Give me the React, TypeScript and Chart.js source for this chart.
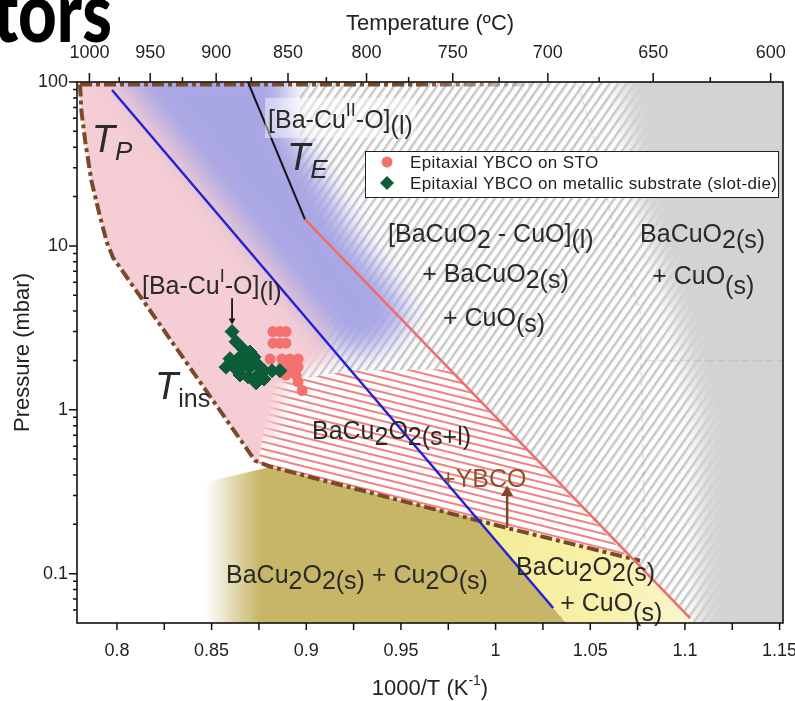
import React, { useEffect, useRef } from 'react';
import { Chart, registerables } from 'chart.js';

type Pt = [number, number];

// ---------- axes ----------
const X_MIN = 0.7789;
const X_MAX = 1.1518;
const P_MIN = 0.05;
const P_MAX = 100;

const xTickValues = [0.8, 0.825, 0.85, 0.875, 0.9, 0.925, 0.95, 0.975, 1.0, 1.025, 1.05, 1.075, 1.1, 1.125, 1.15];
const xLabelValues = [0.8, 0.85, 0.9, 0.95, 1.0, 1.05, 1.1, 1.15];
const tempMajor = [1000, 950, 900, 850, 800, 750, 700, 650, 600];
const tempMinor = [975, 925, 875, 825, 775, 725, 675, 625];
const pMajor = [0.1, 1, 10, 100];
const pMinor = [0.06, 0.07, 0.08, 0.09, 0.2, 0.3, 0.4, 0.5, 0.6, 0.7, 0.8, 0.9, 2, 3, 4, 5, 6, 7, 8, 9, 20, 30, 40, 50, 60, 70, 80, 90];

const seriesNames = ['Epitaxial YBCO on STO', 'Epitaxial YBCO on metallic substrate (slot-die)'];

// ---------- measured points (1000/T, mbar) ----------
const stoPoints: Pt[] = [
  [0.8824, 3.0], [0.8861, 3.0], [0.8893, 3.0],
  [0.8824, 2.55], [0.8861, 2.55], [0.8893, 2.55],
  [0.8809, 2.04], [0.8872, 2.04], [0.8914, 2.04], [0.8957, 2.04],
  [0.8872, 1.82], [0.8914, 1.82], [0.8957, 1.82],
  [0.8893, 1.63], [0.8946, 1.63], [0.8957, 1.48], [0.8978, 1.31],
];
const slotDiePoints: Pt[] = [
  [0.8608, 3.0], [0.8629, 2.6], [0.8666, 2.35], [0.8703, 2.25],
  [0.8597, 2.05], [0.864, 2.05], [0.8682, 2.05], [0.8724, 2.1],
  [0.8576, 1.82], [0.8618, 1.82], [0.8661, 1.82], [0.8703, 1.82], [0.8745, 1.88],
  [0.8777, 1.73], [0.8819, 1.73], [0.8861, 1.73],
  [0.865, 1.63], [0.8692, 1.59], [0.8735, 1.59], [0.8777, 1.54], [0.8735, 1.46],
];

// ---------- phase boundaries ----------
const tpBoundary: Pt[] = [
  [0.7805, 96.5], [0.7812, 67], [0.7833, 43], [0.7865, 25], [0.7911, 15], [0.7947, 10.5], [0.7979, 8.5],
  [0.8729, 0.49], [0.8809, 0.45], [0.9495, 0.28], [1.0061, 0.19], [1.0763, 0.12],
];
const tpTop: Pt[] = [[0.7805, 96.5], [1.03, 96.5]];
const blueLine: Pt[] = [[0.7974, 89.4], [1.0304, 0.0617]];
const teLine: Pt[] = [[0.8692, 100], [0.8993, 14.5]];
const redLine: Pt[] = [[0.8993, 14.5], [1.1027, 0.0536]];
const faintBoundary: Pt[] = [[1.0436, 97], [1.0552, 33.6], [1.0631, 10.96], [1.0763, 4.11], [1.079, 0.124]];
const faintHorizontal: Pt[] = [[1.079, 2.0], [1.1518, 2.0]];
const brownArrow: Pt[] = [[1.0061, 0.19], [1.0061, 0.313]];
const blackArrow: Pt[] = [[0.8608, 4.8], [0.8608, 3.5]];

// ---------- phase regions ----------
const greyHatchRegion: Pt[] = [[0.8967, 180], [1.1714, 180], [1.1714, 0.0306], [0.9495, 0.0306], [0.9495, 0.438], [0.8967, 0.438]];
const greySolidRegion: Pt[] = [[1.0631, 180], [1.1714, 180], [1.1714, 0.0306], [1.108, 0.0306], [1.108, 0.88], [1.0974, 3.11], [1.0763, 19.2]];
const pinkRegion: Pt[] = [
  [0.7794, 100], [0.7812, 67], [0.7833, 43], [0.7865, 25], [0.7911, 15], [0.7947, 10.5], [0.7979, 8.5],
  [0.8729, 0.49], [0.8809, 0.45], [0.8782, 0.667], [0.8861, 1.25], [0.8967, 3.11], [0.8703, 100],
];
const pinkHatchRegion: Pt[] = [[0.8745, 0.463], [0.8819, 1.44], [0.9231, 1.73], [0.9756, 1.77], [1.0689, 0.13], [1.0061, 0.189], [0.9495, 0.28], [0.8809, 0.457]];
const pinkSoftRegion: Pt[] = [
  [0.8122, 136], [0.8703, 136], [0.9073, 9.52], [0.9152, 3.11], [0.9126, 1.99], [0.8888, 1.59],
  [0.8819, 0.667], [0.8745, 0.667], [0.8465, 2.35], [0.8175, 10.96],
];
const lavenderRegion: Pt[] = [[0.7953, 136], [0.8888, 136], [0.8914, 51], [0.9073, 27.2], [0.9258, 10.96], [0.9469, 5.44], [0.9548, 3.57], [0.9416, 2.52], [0.9205, 2.1]];
const oliveRegion: Pt[] = [[0.8439, 0.355], [0.8782, 0.44], [0.8809, 0.45], [0.9495, 0.28], [0.9897, 0.217], [1.0444, 0.04], [0.8439, 0.04]];
const yellowRegion: Pt[] = [[0.9897, 0.217], [1.0061, 0.19], [1.0689, 0.13], [1.1128, 0.0405], [1.0444, 0.0405]];

// ---------- labels ----------
type Part = { t: string; dy?: number; size?: number; italic?: boolean };
type Label = { x: number; p: number; parts: Part[]; color?: string; box?: boolean };
const phaseLabels: Label[] = [
  { x: 0.8798, p: 52.5, box: true, parts: [{ t: '[Ba-Cu' }, { t: 'II', dy: -12, size: 18 }, { t: '-O]' }, { t: '(l)', dy: 6 }] },
  { x: 0.9432, p: 10.5, parts: [{ t: '[BaCuO' }, { t: '2', dy: 6 }, { t: ' - CuO]' }, { t: '(l)', dy: 6 }] },
  { x: 0.9612, p: 6.0, parts: [{ t: '+ BaCuO' }, { t: '2(s)', dy: 6 }] },
  { x: 0.9722, p: 3.24, parts: [{ t: '+ CuO' }, { t: '(s)', dy: 6 }] },
  { x: 1.0763, p: 10.5, parts: [{ t: 'BaCuO' }, { t: '2(s)', dy: 6 }] },
  { x: 1.0827, p: 5.83, parts: [{ t: '+ CuO' }, { t: '(s)', dy: 10 }] },
  { x: 0.8132, p: 5.07, parts: [{ t: '[Ba-Cu' }, { t: 'I', dy: -12, size: 18 }, { t: '-O]' }, { t: '(l)', dy: 6 }] },
  { x: 0.903, p: 0.667, parts: [{ t: 'BaCu' }, { t: '2', dy: 6 }, { t: 'O' }, { t: '2(s+l)', dy: 6 }] },
  { x: 0.9712, p: 0.34, color: '#8a5530', parts: [{ t: '+YBCO' }] },
  { x: 0.8576, p: 0.0875, parts: [{ t: 'BaCu' }, { t: '2', dy: 6 }, { t: 'O' }, { t: '2(s)', dy: 6 }, { t: ' + Cu' }, { t: '2', dy: 6 }, { t: 'O' }, { t: '(s)', dy: 6 }] },
  { x: 1.0108, p: 0.098, parts: [{ t: 'BaCu' }, { t: '2', dy: 6 }, { t: 'O' }, { t: '2(s)', dy: 6 }] },
  { x: 1.0341, p: 0.0592, parts: [{ t: '+ CuO' }, { t: '(s)', dy: 10 }] },
  { x: 0.7867, p: 37.5, parts: [{ t: 'T', italic: true, size: 38 }, { t: 'P', italic: true, size: 26, dy: 8 }] },
  { x: 0.8898, p: 29.2, parts: [{ t: 'T', italic: true, size: 38 }, { t: 'E', italic: true, size: 26, dy: 8 }] },
  { x: 0.8201, p: 1.17, parts: [{ t: 'T', italic: true, size: 38 }, { t: 'ins', size: 25, dy: 8 }] },
];

const FONT = '"Liberation Sans", Arial, sans-serif';
const BROWN = '#7a4a28';
const toXY = (pts: Pt[]) => pts.map(([x, y]) => ({ x, y }));
const near = (list: number[], v: number) => list.some((u) => Math.abs(u - v) < 1e-6);

// blur for soft-edged regions (registered before the Filler so it wraps the fill)
const blurPlugin = {
  id: 'regionBlur',
  beforeDatasetDraw(chart: any, args: any) {
    const ds = chart.data.datasets[args.index];
    if (ds && ds.blur) {
      chart.ctx.save();
      chart.ctx.filter = `blur(${ds.blur}px)`;
    }
  },
  afterDatasetDraw(chart: any, args: any) {
    const ds = chart.data.datasets[args.index];
    if (ds && ds.blur) chart.ctx.restore();
  },
};
Chart.register(blurPlugin);
Chart.register(...registerables);

function stripePattern(color: string, bg: string | null, period: number, thick: number, angle: number) {
  const c = document.createElement('canvas');
  c.width = 16;
  c.height = period;
  const g = c.getContext('2d')!;
  if (bg) {
    g.fillStyle = bg;
    g.fillRect(0, 0, 16, period);
  }
  g.fillStyle = color;
  g.fillRect(0, 0, 16, thick);
  const pat = g.createPattern(c, 'repeat')!;
  pat.setTransform(new DOMMatrix().rotate(angle));
  return pat;
}

function drawRich(ctx: CanvasRenderingContext2D, x: number, y: number, parts: Part[], color: string, box: boolean) {
  const base = 25;
  let w = 0;
  for (const p of parts) {
    ctx.font = `${p.italic ? 'italic ' : ''}${p.size ?? base}px ${FONT}`;
    w += ctx.measureText(p.t).width;
  }
  if (box) {
    ctx.fillStyle = 'rgba(255,255,255,0.45)';
    ctx.fillRect(x - 3, y - 30, w + 6, 40);
  }
  let cx = x;
  ctx.fillStyle = color;
  for (const p of parts) {
    ctx.font = `${p.italic ? 'italic ' : ''}${p.size ?? base}px ${FONT}`;
    ctx.fillText(p.t, cx, y + (p.dy ?? 0));
    cx += ctx.measureText(p.t).width;
  }
}

const labelPlugin = {
  id: 'phaseLabels',
  afterDatasetsDraw(chart: any) {
    const { ctx, scales } = chart;
    ctx.save();
    ctx.textAlign = 'left';
    ctx.textBaseline = 'alphabetic';
    for (const l of phaseLabels) {
      drawRich(ctx, scales.x.getPixelForValue(l.x), scales.y.getPixelForValue(l.p), l.parts, l.color ?? '#2a2a2a', !!l.box);
    }
    ctx.restore();
  },
};

const frameTicksPlugin = {
  id: 'frameTicks',
  afterDatasetsDraw(chart: any) {
    const { ctx, chartArea: a, scales } = chart;
    ctx.save();
    ctx.strokeStyle = '#111';
    ctx.lineWidth = 1.5;
    ctx.beginPath();
    for (const t of scales.x.ticks) {
      const px = scales.x.getPixelForValue(t.value);
      ctx.moveTo(px, a.bottom);
      ctx.lineTo(px, a.bottom + 7);
    }
    for (const t of scales.x2.ticks) {
      const px = scales.x2.getPixelForValue(t.value);
      ctx.moveTo(px, a.top);
      ctx.lineTo(px, a.top - (t.label ? 9 : 5));
    }
    for (const t of scales.y.ticks) {
      const py = scales.y.getPixelForValue(t.value);
      ctx.moveTo(a.left, py);
      ctx.lineTo(a.left - (t.label ? 8 : 4), py);
    }
    ctx.stroke();
    ctx.lineWidth = 1.6;
    ctx.strokeRect(a.left, a.top, a.right - a.left, a.bottom - a.top);
    ctx.restore();
  },
};

const legendPlugin = {
  id: 'boxLegend',
  afterDatasetsDraw(chart: any) {
    const { ctx, chartArea: a } = chart;
    const left = a.left + 288;
    const top = a.top + 69;
    const w = 413;
    const h = 46;
    ctx.save();
    ctx.fillStyle = '#fff';
    ctx.fillRect(left, top, w, h);
    ctx.strokeStyle = '#222';
    ctx.lineWidth = 1;
    ctx.strokeRect(left + 0.5, top + 0.5, w, h);
    const items = chart.data.datasets.filter((d: any) => d.legendItem);
    items.forEach((d: any, i: number) => {
      const cy = top + 11 + i * 21;
      const cx = left + 22;
      ctx.fillStyle = d.pointBackgroundColor;
      ctx.beginPath();
      if (d.pointStyle === 'rectRot') {
        ctx.moveTo(cx, cy - 7);
        ctx.lineTo(cx + 7, cy);
        ctx.lineTo(cx, cy + 7);
        ctx.lineTo(cx - 7, cy);
        ctx.closePath();
      } else {
        ctx.arc(cx, cy, 5.5, 0, Math.PI * 2);
      }
      ctx.fill();
      ctx.fillStyle = '#222';
      ctx.font = `17px ${FONT}`;
      (ctx as any).letterSpacing = '0.4px';
      ctx.textBaseline = 'middle';
      ctx.fillText(d.label, left + 45, cy + 1);
      (ctx as any).letterSpacing = '0px';
    });
    ctx.restore();
  },
};

const titlePlugin = {
  id: 'axisTitles',
  afterDraw(chart: any) {
    const { ctx, chartArea: a } = chart;
    const cx = (a.left + a.right) / 2;
    ctx.save();
    ctx.fillStyle = '#222';
    ctx.textBaseline = 'alphabetic';
    ctx.font = `22px ${FONT}`;
    ctx.textAlign = 'center';
    ctx.fillText('Temperature (ºC)', cx, 30);
    const main = '1000/T (K';
    ctx.font = `22px ${FONT}`;
    const w1 = ctx.measureText(main).width;
    ctx.font = `14px ${FONT}`;
    const w2 = ctx.measureText('-1').width;
    ctx.font = `22px ${FONT}`;
    const w3 = ctx.measureText(')').width;
    const x0 = cx - (w1 + w2 + w3) / 2;
    ctx.textAlign = 'left';
    ctx.fillText(main, x0, 695);
    ctx.font = `14px ${FONT}`;
    ctx.fillText('-1', x0 + w1, 685);
    ctx.font = `22px ${FONT}`;
    ctx.fillText(')', x0 + w1 + w2, 695);
    ctx.translate(23, (a.top + a.bottom) / 2);
    ctx.rotate(-Math.PI / 2);
    ctx.textAlign = 'center';
    ctx.textBaseline = 'middle';
    ctx.fillText('Pressure (mbar)', 0, 0);
    ctx.restore();
  },
};

function region(label: string, pts: Pt[], bg: any, order: number, blur = 0) {
  return {
    label,
    data: toXY(pts),
    fill: 'shape',
    backgroundColor: bg,
    borderColor: 'rgba(0,0,0,0)',
    borderWidth: 0,
    pointRadius: 0,
    order,
    blur,
  };
}

function line(label: string, pts: Pt[], color: any, width: number, order: number, extra: any = {}) {
  return {
    label,
    data: toXY(pts),
    fill: false,
    borderColor: color,
    borderWidth: width,
    pointRadius: 0,
    order,
    ...extra,
  };
}

export default function App() {
  const ref = useRef<HTMLCanvasElement>(null);

  useEffect(() => {
    const canvas = ref.current;
    if (!canvas) return;
    const greyHatch = stripePattern('rgb(200,200,200)', null, 7, 2.5, -55);
    const pinkHatch = stripePattern('rgb(240,130,130)', '#ffffff', 7, 2, 14);

    const oliveFill = (c: any) => {
      const ch = c.chart;
      if (!ch.chartArea) return 'rgb(199,182,103)';
      const sx = ch.scales.x;
      const g = ch.ctx.createLinearGradient(sx.getPixelForValue(0.8465), 0, sx.getPixelForValue(0.8755), 0);
      g.addColorStop(0, 'rgba(199,182,103,0)');
      g.addColorStop(1, 'rgba(199,182,103,1)');
      return g;
    };
    const yellowFill = (c: any) => {
      const ch = c.chart;
      if (!ch.chartArea) return 'rgb(246,238,158)';
      const sx = ch.scales.x;
      const g = ch.ctx.createLinearGradient(sx.getPixelForValue(0.99), 0, sx.getPixelForValue(1.11), 0);
      g.addColorStop(0, 'rgb(245,235,150)');
      g.addColorStop(0.6, 'rgb(248,241,172)');
      g.addColorStop(1, 'rgb(250,247,215)');
      return g;
    };
    const topFade = (c: any) => {
      const ch = c.chart;
      if (!ch.chartArea) return BROWN;
      const sx = ch.scales.x;
      const g = ch.ctx.createLinearGradient(sx.getPixelForValue(0.96), 0, sx.getPixelForValue(1.03), 0);
      g.addColorStop(0, 'rgba(122,74,40,1)');
      g.addColorStop(1, 'rgba(122,74,40,0)');
      return g;
    };

    const datasets: any[] = [
      region('grey hatch', greyHatchRegion, greyHatch, 100),
      region('grey solid', greySolidRegion, 'rgb(211,211,211)', 95, 11),
      region('pink', pinkRegion, 'rgb(245,205,212)', 90),
      region('pink hatch', pinkHatchRegion, pinkHatch, 85),
      region('pink soft', pinkSoftRegion, 'rgb(245,205,212)', 80, 8),
      region('lavender', lavenderRegion, 'rgb(168,166,228)', 75, 14),
      region('olive', oliveRegion, oliveFill, 70),
      region('yellow', yellowRegion, yellowFill, 65),
      line('faint boundary', faintBoundary, 'rgba(160,150,140,0.3)', 1.5, 60, { borderDash: [5, 4] }),
      line('faint horizontal', faintHorizontal, 'rgba(160,150,140,0.25)', 1.5, 59, { borderDash: [8, 4] }),
      line('T_P', tpBoundary, BROWN, 4, 50, { borderDash: [12, 4, 4, 4] }),
      line('T_P top', tpTop, topFade, 4, 49, { borderDash: [12, 4, 4, 4] }),
      line('T_E', teLine, '#151515', 2, 45),
      line('red', redLine, '#f06b6b', 2.5, 44),
      line('blue', blueLine, '#2323d6', 2.5, 43),
      line('brown arrow', brownArrow, BROWN, 2.5, 40, {
        pointRadius: [0, 7], pointStyle: 'triangle', pointBackgroundColor: BROWN, pointBorderWidth: 0,
      }),
      line('black arrow', blackArrow, '#151515', 1.8, 39, {
        pointRadius: [0, 4], pointStyle: 'triangle', pointRotation: 180, pointBackgroundColor: '#151515', pointBorderWidth: 0,
      }),
      {
        label: seriesNames[0], data: toXY(stoPoints), showLine: false, legendItem: true,
        pointStyle: 'circle', pointRadius: 5.5, pointBackgroundColor: '#f37270', pointBorderColor: '#f37270', pointBorderWidth: 0,
        backgroundColor: '#f37270', borderColor: '#f37270', order: 20,
      },
      {
        label: seriesNames[1], data: toXY(slotDiePoints), showLine: false, legendItem: true,
        pointStyle: 'rectRot', pointRadius: 7, pointBackgroundColor: '#0c5c3a', pointBorderColor: '#0c5c3a', pointBorderWidth: 1,
        backgroundColor: '#0c5c3a', borderColor: '#0c5c3a', order: 10,
      },
    ];

    const tickFont = { size: 18, family: FONT };
    const x2Values = [...tempMajor, ...tempMinor].map((t) => 1000 / (t + 273.15)).sort((a, b) => a - b);

    const chart = new Chart(canvas, {
      type: 'line',
      data: { datasets },
      options: {
        animation: false,
        responsive: false,
        devicePixelRatio: 1,
        events: [],
        layout: { padding: { left: 0, right: 47, top: 0, bottom: 0 } },
        plugins: { legend: { display: false }, tooltip: { enabled: false }, title: { display: false } },
        scales: {
          x: {
            type: 'linear', position: 'bottom', min: X_MIN, max: X_MAX, bounds: 'data',
            grid: { display: false, drawTicks: false }, border: { display: false },
            ticks: {
              autoSkip: false, maxRotation: 0, minRotation: 0, padding: 17, font: tickFont, color: '#222',
              callback: (v: any) => (near(xLabelValues, Number(v)) ? String(+Number(v).toFixed(3)) : ''),
            },
            afterBuildTicks: (s: any) => { s.ticks = xTickValues.map((v) => ({ value: v })); },
            afterFit: (s: any) => { s.height = 78; },
          },
          x2: {
            type: 'linear', position: 'top', min: X_MIN, max: X_MAX, bounds: 'data',
            grid: { display: false, drawTicks: false }, border: { display: false },
            ticks: {
              autoSkip: false, maxRotation: 0, minRotation: 0, padding: 18, font: tickFont, color: '#222',
              callback: (v: any) => {
                const t = Math.round(1000 / Number(v) - 273.15);
                return tempMajor.includes(t) ? String(t) : '';
              },
            },
            afterBuildTicks: (s: any) => { s.ticks = x2Values.map((v) => ({ value: v })); },
            afterFit: (s: any) => { s.height = 82; },
          },
          y: {
            type: 'logarithmic', position: 'left', min: P_MIN, max: P_MAX, bounds: 'data',
            grid: { display: false, drawTicks: false }, border: { display: false },
            ticks: {
              autoSkip: false, padding: 9, font: tickFont, color: '#222',
              callback: (v: any) => (near(pMajor, Number(v)) ? String(Number(v)) : ''),
            },
            afterBuildTicks: (s: any) => { s.ticks = [...pMinor, ...pMajor].sort((a, b) => a - b).map((v) => ({ value: v })); },
            afterFit: (s: any) => { s.width = 77; },
          },
        },
      } as any,
      plugins: [labelPlugin, legendPlugin, frameTicksPlugin, titlePlugin],
    });
    return () => chart.destroy();
  }, []);

  return (
    <div style={{ position: 'absolute', left: 0, top: 0, width: 795, height: 701, overflow: 'hidden', background: '#fff' }}>
      <canvas ref={ref} width={830} height={701} style={{ position: 'absolute', left: 0, top: 0, width: 830, height: 701 }} />
      <div
        style={{
          position: 'absolute', left: -7, top: -32, fontFamily: 'Lato, "Open Sans", sans-serif', fontWeight: 900,
          fontSize: 84, lineHeight: 1, transform: 'scaleX(0.8)', transformOrigin: 'left top', color: '#000', whiteSpace: 'nowrap',
        }}
      >
        tors
      </div>
    </div>
  );
}
